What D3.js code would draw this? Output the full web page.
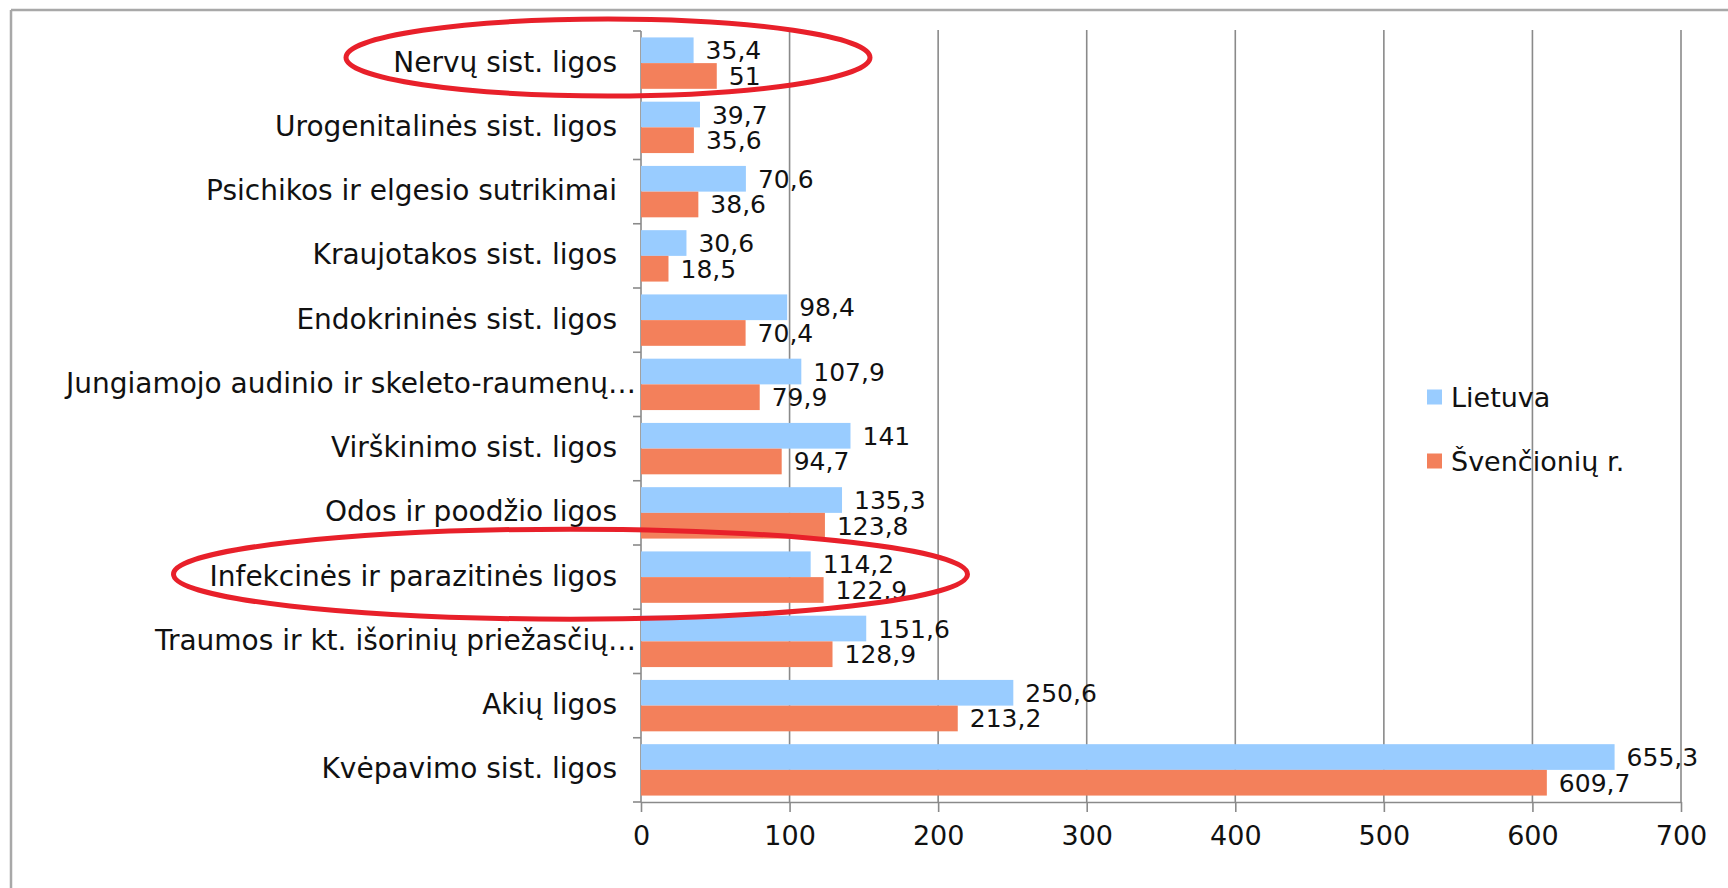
<!DOCTYPE html>
<html>
<head>
<meta charset="utf-8">
<script src="https://cdn.jsdelivr.net/npm/d3@7"></script>
<style>
  html, body { margin: 0; padding: 0; background: #ffffff; }
  svg { display: block; }
  text { font-family: "DejaVu Sans", Verdana, sans-serif; fill: #111; }
</style>
</head>
<body>
<svg id="chart" width="1728" height="888"></svg>
<script>
const categories = [
  "Nervų sist. ligos",
  "Urogenitalinės sist. ligos",
  "Psichikos ir elgesio sutrikimai",
  "Kraujotakos sist. ligos",
  "Endokrininės sist. ligos",
  "Jungiamojo audinio ir skeleto-raumenų…",
  "Virškinimo sist. ligos",
  "Odos ir poodžio ligos",
  "Infekcinės ir parazitinės ligos",
  "Traumos ir kt. išorinių priežasčių…",
  "Akių ligos",
  "Kvėpavimo sist. ligos"
];
const lietuva = [35.4, 39.7, 70.6, 30.6, 98.4, 107.9, 141, 135.3, 114.2, 151.6, 250.6, 655.3];
const svencioniu = [51, 35.6, 38.6, 18.5, 70.4, 79.9, 94.7, 123.8, 122.9, 128.9, 213.2, 609.7];
const seriesNames = ["Lietuva", "Švenčionių r."];
const xTicks = [0, 100, 200, 300, 400, 500, 600, 700];
const highlighted = ["Nervų sist. ligos", "Infekcinės ir parazitinės ligos"];

const colors = { "Lietuva": "#99CCFF", "Švenčionių r.": "#F3805B" };
const gridColor = "#8a8a8a";

const svg = d3.select("#chart");

// outer chart border (only top and left visible)
svg.append("line").attr("x1", 11).attr("x2", 1728).attr("y1", 10).attr("y2", 10)
  .attr("stroke", "#a8a8a8").attr("stroke-width", 2.5);
svg.append("line").attr("x1", 11).attr("x2", 11).attr("y1", 10).attr("y2", 888)
  .attr("stroke", "#a8a8a8").attr("stroke-width", 2.5);

const x = d3.scaleLinear().domain([0, 700]).range([641, 1681]);
const y = d3.scaleBand().domain(categories).range([31, 802]).paddingInner(0.2).paddingOuter(0.1);
const sub = d3.scaleBand().domain(seriesNames).range([0, y.bandwidth()]);
const plotTop = y.range()[0], plotBottom = y.range()[1];

// vertical gridlines
svg.append("g").selectAll("line").data(xTicks.filter(d => d > 0)).join("line")
  .attr("x1", d => x(d)).attr("x2", d => x(d))
  .attr("y1", plotTop - 1).attr("y2", plotBottom)
  .attr("stroke", gridColor).attr("stroke-width", 1.6);

// bottom axis
const xAxis = d3.axisBottom(x).tickValues(xTicks).tickSize(10).tickSizeOuter(0).tickPadding(12)
  .tickFormat(d => d);
const gx = svg.append("g").attr("transform", `translate(0,${plotBottom})`).call(xAxis);
gx.select(".domain").attr("stroke", gridColor).attr("stroke-width", 1.6);
gx.selectAll(".tick line").attr("stroke", gridColor).attr("stroke-width", 1.6);
gx.selectAll(".tick text").attr("font-size", 27).attr("font-family", "DejaVu Sans").attr("fill", "#111")
  .attr("dy", "0.78em");

// left axis line + ticks at band boundaries
svg.append("line").attr("x1", x(0)).attr("x2", x(0)).attr("y1", plotTop).attr("y2", plotBottom)
  .attr("stroke", gridColor).attr("stroke-width", 1.6);
svg.append("g").selectAll("line").data(d3.range(categories.length + 1)).join("line")
  .attr("x1", x(0) - 8).attr("x2", x(0))
  .attr("y1", i => plotTop + i * y.step()).attr("y2", i => plotTop + i * y.step())
  .attr("stroke", gridColor).attr("stroke-width", 1.6);

// category labels
svg.append("g").selectAll("text").data(categories).join("text")
  .attr("x", d => d.endsWith("…") ? x(0) - 5 : x(0) - 24)
  .attr("y", d => y(d) + y.bandwidth() / 2)
  .attr("dy", "0.3em")
  .attr("text-anchor", "end")
  .attr("font-size", 28)
  .text(d => d);

// bars
const rows = categories.map((c, i) => ({ cat: c, vals: [lietuva[i], svencioniu[i]] }));
const groups = svg.append("g").selectAll("g").data(rows).join("g")
  .attr("transform", d => `translate(0,${y(d.cat)})`);
groups.selectAll("rect").data(d => d.vals.map((v, j) => ({ s: seriesNames[j], v }))).join("rect")
  .attr("x", x(0))
  .attr("y", d => sub(d.s))
  .attr("width", d => x(d.v) - x(0))
  .attr("height", sub.bandwidth())
  .attr("fill", d => colors[d.s]);
groups.selectAll("text").data(d => d.vals.map((v, j) => ({ s: seriesNames[j], v }))).join("text")
  .attr("x", d => x(d.v) + 12)
  .attr("y", d => sub(d.s) + sub.bandwidth() / 2)
  .attr("dy", "0.36em")
  .attr("font-size", 25)
  .text(d => String(d.v).replace(".", ","));

// legend
const legend = svg.append("g").selectAll("g").data(seriesNames).join("g")
  .attr("transform", (d, i) => `translate(1427,${397 + i * 64})`);
legend.append("rect").attr("x", 0).attr("y", -7.5).attr("width", 15).attr("height", 15)
  .attr("fill", d => colors[d]);
legend.append("text").attr("x", 24).attr("y", 0).attr("dy", "0.36em")
  .attr("font-size", 27).text(d => d);

// red annotation ellipses around highlighted categories
const ellipseSpec = {
  "Nervų sist. ligos": { dx: -33, dy: -5.6, rx: 262, ry: 38.5 },
  "Infekcinės ir parazitinės ligos": { dx: -70.5, dy: -3, rx: 397, ry: 45 }
};
svg.append("g").selectAll("ellipse").data(highlighted).join("ellipse")
  .attr("cx", d => x(0) + ellipseSpec[d].dx)
  .attr("cy", d => y(d) + y.bandwidth() / 2 + ellipseSpec[d].dy)
  .attr("rx", d => ellipseSpec[d].rx)
  .attr("ry", d => ellipseSpec[d].ry)
  .attr("fill", "none")
  .attr("stroke", "#E8202A")
  .attr("stroke-width", 5);
</script>
</body>
</html>
